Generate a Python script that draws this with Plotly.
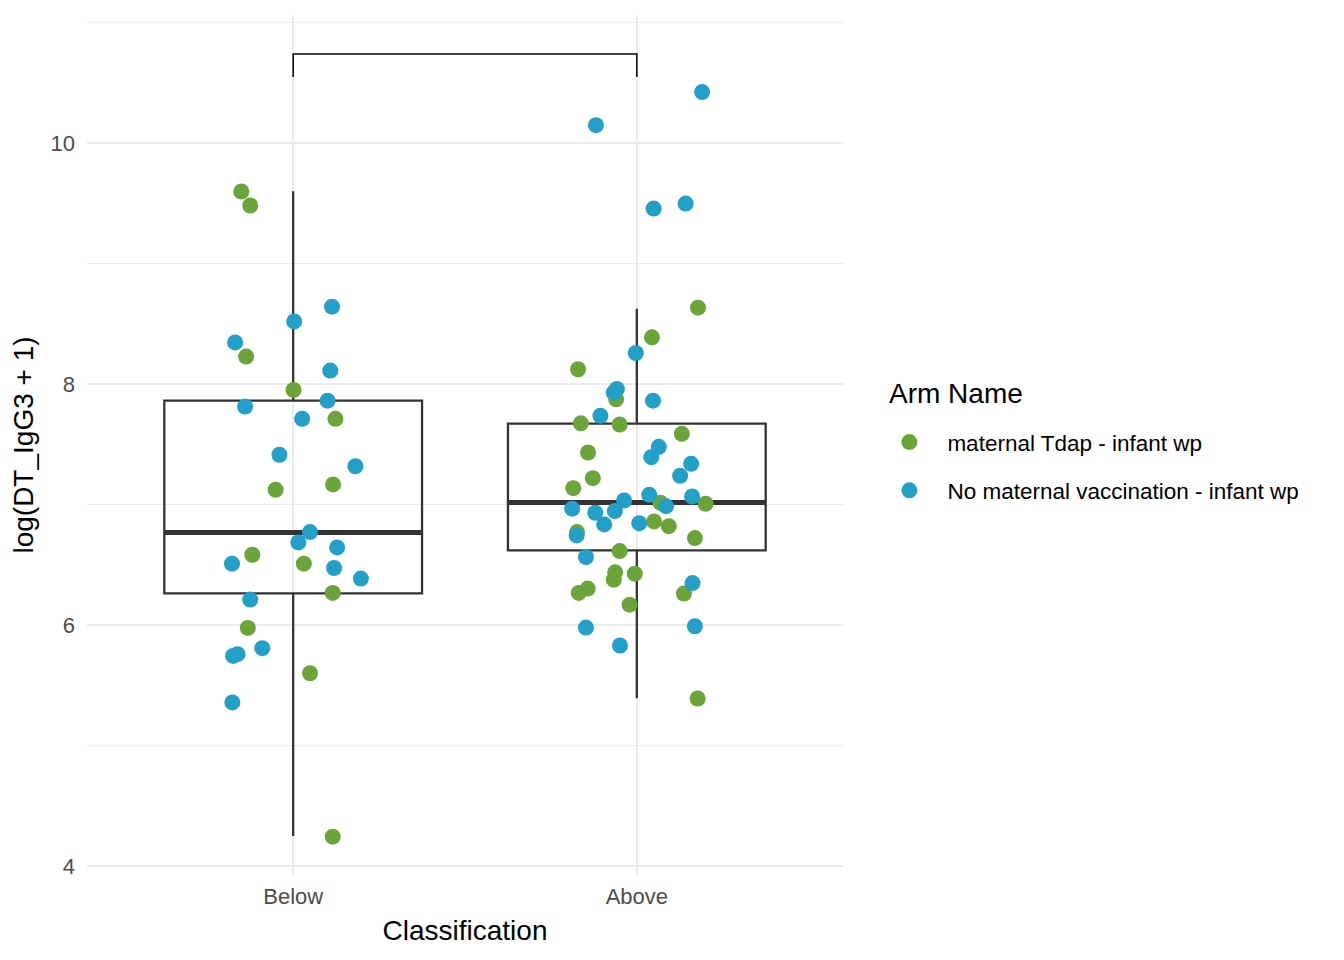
import plotly.graph_objects as go

# categories on the x axis (drawn at positions 1 and 2)
categories = ["Below", "Above"]
cat_pos = [1, 2]

arm_names = ["maternal Tdap - infant wp", "No maternal vaccination - infant wp"]
arm_colors = ["#6BA53A", "#22A0C8"]

# boxplot summary per category
box_q1 = [6.265, 6.621]
box_median = [6.770, 7.019]
box_q3 = [7.863, 7.673]
box_lower = [4.253, 5.395]
box_upper = [9.600, 8.625]

# jittered points: offset from category centre and log value
tdap_below_jit = [-0.151, -0.125, -0.137, 0.001, 0.123, -0.051, 0.116, 0.031, -0.119, 0.115, -0.132, 0.049, 0.115]
tdap_below_val = [9.597, 9.481, 8.228, 7.952, 7.712, 7.124, 7.168, 6.511, 6.585, 6.268, 5.978, 5.602, 4.247]

none_below_jit = [0.113, 0.003, -0.169, 0.108, 0.100, -0.140, 0.026, -0.040, 0.181, 0.049,
                  0.015, 0.128, -0.178, 0.119, 0.197, -0.125, -0.090, -0.175, -0.162, -0.177]
none_below_val = [8.642, 8.520, 8.346, 8.112, 7.863, 7.814, 7.712, 7.414, 7.319, 6.773,
                  6.687, 6.646, 6.511, 6.475, 6.387, 6.213, 5.810, 5.746, 5.760, 5.360]

tdap_above_jit = [0.178, 0.044, -0.171, -0.060, -0.163, -0.050, 0.131, -0.142, -0.128, -0.185,
                  0.069, 0.200, 0.050, 0.093, -0.174, 0.169, -0.050, -0.063, -0.006, -0.067,
                  -0.143, -0.169, 0.137, -0.021, 0.177]
tdap_above_val = [8.634, 8.388, 8.123, 7.874, 7.675, 7.665, 7.588, 7.433, 7.220, 7.137,
                  7.016, 7.008, 6.861, 6.822, 6.773, 6.723, 6.615, 6.439, 6.428, 6.378,
                  6.304, 6.268, 6.263, 6.171, 5.393]

none_above_jit = [0.190, -0.119, 0.049, 0.142, -0.003, -0.058, -0.067, 0.047, -0.106, 0.064,
                  0.042, 0.158, 0.126, 0.036, 0.161, 0.085, -0.037, -0.188, -0.121, -0.064,
                  -0.095, 0.007, -0.175, -0.148, 0.162, -0.148, 0.169, -0.049]
none_above_val = [10.422, 10.147, 9.456, 9.497, 8.258, 7.960, 7.930, 7.863, 7.737, 7.480,
                  7.394, 7.339, 7.240, 7.082, 7.068, 6.988, 7.035, 6.967, 6.933, 6.947,
                  6.836, 6.847, 6.745, 6.566, 6.350, 5.981, 5.992, 5.832]

# comparison bracket (Below vs Above)
bracket_low = 10.547
bracket_high = 10.737

y_ticks = [4, 6, 8, 10]
y_minor = [5, 7, 9, 11]

FONT = "Liberation Sans, Arial, sans-serif"
BOX_W = 0.75

fig = go.Figure()

for i, pos in enumerate(cat_pos):
    fig.add_trace(go.Box(
        x=[pos], q1=[box_q1[i]], median=[box_median[i]], q3=[box_q3[i]],
        lowerfence=[box_lower[i]], upperfence=[box_upper[i]],
        width=BOX_W, whiskerwidth=0, boxpoints=False, fillcolor="rgba(0,0,0,0)",
        line=dict(color="#333333", width=2.3), showlegend=False, hoverinfo="skip"))
    # thicker median like ggplot
    fig.add_trace(go.Scatter(
        x=[pos - BOX_W / 2, pos + BOX_W / 2], y=[box_median[i], box_median[i]],
        mode="lines", line=dict(color="#333333", width=5),
        showlegend=False, hoverinfo="skip"))

groups = [
    (tdap_below_jit, tdap_below_val, tdap_above_jit, tdap_above_val),
    (none_below_jit, none_below_val, none_above_jit, none_above_val),
]
for k, (bj, bv, aj, av) in enumerate(groups):
    xs = [cat_pos[0] + j for j in bj] + [cat_pos[1] + j for j in aj]
    ys = bv + av
    fig.add_trace(go.Scatter(
        x=xs, y=ys, mode="markers", name=arm_names[k], legendgroup=arm_names[k],
        marker=dict(color=arm_colors[k], size=16, line=dict(width=0))))

fig.add_trace(go.Scatter(
    x=[cat_pos[0], cat_pos[0], cat_pos[1], cat_pos[1]],
    y=[bracket_low, bracket_high, bracket_high, bracket_low],
    mode="lines", line=dict(color="black", width=1.5),
    showlegend=False, hoverinfo="skip"))

# page body adds 8px, so the figure is 8px smaller than the window
fig.update_layout(
    width=1336, height=952,
    margin=dict(l=79, r=501, t=7, b=85),
    plot_bgcolor="white", paper_bgcolor="white",
    font=dict(family=FONT, color="black"),
    xaxis=dict(
        range=[0.4, 2.6], tickvals=cat_pos, ticktext=categories,
        showgrid=True, gridcolor="#EBEBEB", gridwidth=2,
        zeroline=False, showline=False, ticks="", automargin=False,
        tickfont=dict(size=22, color="#4D4D4D"), ticklabelstandoff=6,
        title=dict(text="Classification", font=dict(size=28), standoff=12)),
    yaxis=dict(
        range=[3.929, 11.061], tickvals=y_ticks,
        showgrid=True, gridcolor="#EBEBEB", gridwidth=2,
        minor=dict(tickvals=y_minor, showgrid=True, gridcolor="#EBEBEB", gridwidth=1),
        zeroline=False, showline=False, ticks="", automargin=False,
        tickfont=dict(size=22, color="#4D4D4D"), ticklabelstandoff=11,
        title=dict(text="log(DT_IgG3 + 1)", font=dict(size=28), standoff=12)),
    legend=dict(
        x=(872 - 87) / 756.6, xanchor="left", y=0.528, yanchor="top",
        itemwidth=66, tracegroupgap=16, font=dict(size=22.5),
        bgcolor="rgba(0,0,0,0)"),
    annotations=[dict(
        text="Arm Name", x=(888 - 87) / 756.6, y=1 - (393 - 15) / 860,
        xref="paper", yref="paper", xanchor="left", yanchor="middle",
        showarrow=False, font=dict(size=28, color="black"))],
)

fig.write_html("out.html")
